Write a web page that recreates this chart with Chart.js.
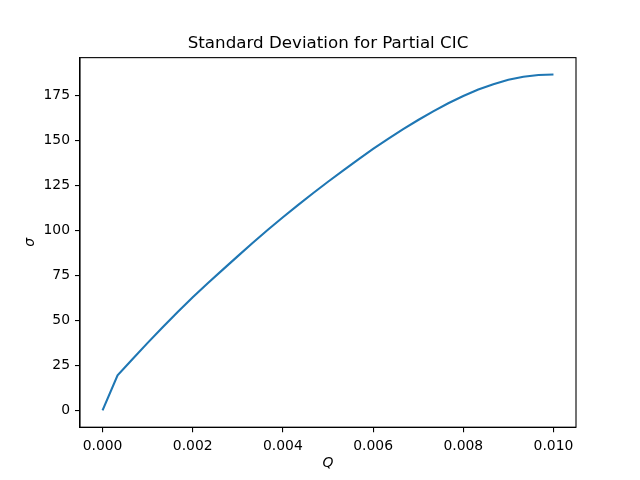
<!DOCTYPE html>
<html>
<head>
<meta charset="utf-8">
<title>Standard Deviation for Partial CIC</title>
<script src="https://cdn.jsdelivr.net/npm/chart.js@4/dist/chart.umd.min.js"></script>
<style>
  html, body { margin: 0; padding: 0; background: #fff; }
  #chart { display: block; }
</style>
</head>
<body>
<canvas id="chart" width="640" height="480"></canvas>
<script>
// Q values (x) and sigma values (y)
const qValues = [
  0, 0.000333, 0.000667, 0.001, 0.001333, 0.001667, 0.002, 0.002333, 0.002667, 0.003,
  0.003333, 0.003667, 0.004, 0.004333, 0.004667, 0.005, 0.005333, 0.005667, 0.006, 0.006333,
  0.006667, 0.007, 0.007333, 0.007667, 0.008, 0.008333, 0.008667, 0.009, 0.009333, 0.009667,
  0.01,
];
const sigmaValues = [
  0, 19.5, 28.5, 37.5, 46.2, 54.6, 62.8, 70.6, 78.2, 85.7,
  93.1, 100.3, 107.3, 114.0, 120.6, 127.0, 133.2, 139.3, 145.2, 150.8,
  156.2, 161.3, 166.1, 170.6, 174.6, 178.2, 181.2, 183.6, 185.3, 186.3,
  186.6,
];
const xTicks = [0, 0.002, 0.004, 0.006, 0.008, 0.01];
const yTicks = [0, 25, 50, 75, 100, 125, 150, 175];

const FONT = "'DejaVu Sans', sans-serif";

// matplotlib draws a closed box round the axes
const frameBox = {
  id: "frameBox",
  afterDraw(chart) {
    const { ctx, chartArea: a } = chart;
    ctx.save();
    ctx.strokeStyle = "#000";
    ctx.lineWidth = 1.1;
    ctx.strokeRect(a.left, a.top, a.right - a.left, a.bottom - a.top);
    ctx.restore();
  },
};

new Chart(document.getElementById("chart"), {
  type: "line",
  data: {
    datasets: [
      {
        data: qValues.map((q, i) => ({ x: q, y: sigmaValues[i] })),
        borderColor: "#1f77b4",
        borderWidth: 2.1,
        pointRadius: 0,
        tension: 0,
        fill: false,
      },
    ],
  },
  options: {
    responsive: false,
    animation: false,
    devicePixelRatio: 1,
    layout: { padding: { left: 0, right: 64, top: 0, bottom: 0 } },
    plugins: {
      legend: { display: false },
      tooltip: { enabled: false },
      title: {
        display: true,
        fullSize: false,
        text: "Standard Deviation for Partial CIC",
        color: "#000",
        font: { family: FONT, size: 16.7, weight: "normal", lineHeight: 1.2 },
        padding: { top: 33.5, bottom: 4.1 },
      },
    },
    scales: {
      x: {
        type: "linear",
        min: -0.0005,
        max: 0.0105,
        afterBuildTicks: (s) => { s.ticks = xTicks.map((v) => ({ value: v })); },
        afterFit: (s) => { s.height = 52.8; },
        grid: { drawOnChartArea: false, drawTicks: true, tickLength: 5, color: "#000", lineWidth: 1.1 },
        border: { display: true, color: "#000", width: 1.1 },
        ticks: {
          color: "#000",
          padding: 6,
          maxRotation: 0,
          font: { family: FONT, size: 13.9 },
          callback: (v) => Number(v).toFixed(3),
        },
        title: {
          display: true,
          text: "Q",
          color: "#000",
          font: { family: FONT, size: 13.9, style: "italic" },
          padding: { top: 0, bottom: 8.6 },
        },
      },
      y: {
        type: "linear",
        min: -9.33,
        max: 195.93,
        afterBuildTicks: (s) => { s.ticks = yTicks.map((v) => ({ value: v })); },
        afterFit: (s) => { s.width = 80; },
        grid: { drawOnChartArea: false, drawTicks: true, tickLength: 5, color: "#000", lineWidth: 1.1 },
        border: { display: true, color: "#000", width: 1.1 },
        ticks: {
          color: "#000",
          padding: 5,
          font: { family: FONT, size: 13.9 },
          callback: (v) => String(v),
        },
        title: {
          display: true,
          text: "σ",
          color: "#000",
          font: { family: FONT, size: 13.9, style: "italic" },
          padding: { top: 21.6, bottom: 0 },
        },
      },
    },
  },
  plugins: [frameBox],
});
</script>
</body>
</html>
